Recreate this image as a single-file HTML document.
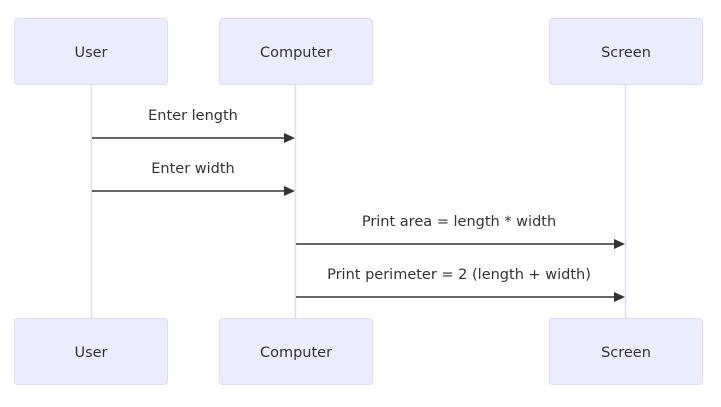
<!DOCTYPE html>
<html><head><meta charset="utf-8"><style>
html,body{margin:0;padding:0;background:#fff;width:721px;height:407px;overflow:hidden}
text{font-family:"DejaVu Sans","Liberation Sans",sans-serif;font-size:14.5px;fill:#333}
</style></head><body>
<svg width="721" height="407" xmlns="http://www.w3.org/2000/svg">
<g stroke="#e0dcf5" stroke-width="1.5">
<line x1="91.5" y1="85" x2="91.5" y2="318"/>
<line x1="295.5" y1="85" x2="295.5" y2="318"/>
<line x1="625.5" y1="85" x2="625.5" y2="318"/>
</g>
<g fill="#ECECFF" stroke="#e0dcf5" stroke-width="1">
<rect x="14.5" y="18.5" width="153" height="66" rx="3"/>
<rect x="219.5" y="18.5" width="153" height="66" rx="3"/>
<rect x="549.5" y="18.5" width="153" height="66" rx="3"/>
<rect x="14.5" y="318.5" width="153" height="66" rx="3"/>
<rect x="219.5" y="318.5" width="153" height="66" rx="3"/>
<rect x="549.5" y="318.5" width="153" height="66" rx="3"/>
</g>
<g text-anchor="middle">
<text x="91" y="57">User</text>
<text x="296" y="57">Computer</text>
<text x="626" y="57">Screen</text>
<text x="91" y="357">User</text>
<text x="296" y="357">Computer</text>
<text x="626" y="357">Screen</text>
<text x="193" y="120">Enter length</text>
<text x="193" y="173">Enter width</text>
<text x="459" y="226">Print area = length * width</text>
<text x="459" y="279">Print perimeter = 2 (length + width)</text>
</g>
<g stroke="#333" stroke-width="1.5">
<line x1="92" y1="138" x2="286" y2="138"/>
<line x1="92" y1="191" x2="286" y2="191"/>
<line x1="296" y1="244" x2="616" y2="244"/>
<line x1="296" y1="297" x2="616" y2="297"/>
</g>
<g fill="#333">
<polygon points="284,133 295,138 284,143"/>
<polygon points="284,186 295,191 284,196"/>
<polygon points="614,239 625,244 614,249"/>
<polygon points="614,292 625,297 614,302"/>
</g>
</svg>
</body></html>
